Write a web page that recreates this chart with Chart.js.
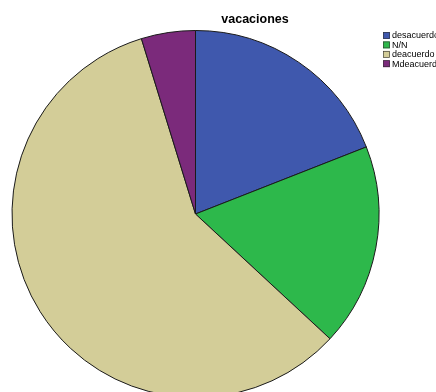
<!DOCTYPE html>
<html>
<head>
<meta charset="utf-8">
<script src="https://cdn.jsdelivr.net/npm/chart.js@4/dist/chart.umd.min.js"></script>
<style>
  html, body { margin: 0; padding: 0; background: #fff; overflow: hidden; }
  #wrap { width: 436px; height: 392px; overflow: hidden; position: relative; }
</style>
</head>
<body>
<div id="wrap"><canvas id="pie" width="436" height="420"></canvas></div>
<script>
// vacaciones - frecuencias por respuesta
var categories = ['desacuerdo', 'N/N', 'deacuerdo', 'Mdeacuerdo'];
var counts = [16, 15, 49, 4];
var colors = ['#3f58ad', '#2db84b', '#d3cd98', '#7b2a7b'];
var title = 'vacaciones';

// title + legend drawn by hand, SPSS style
var spssDecor = {
    id: 'spssDecor',
    afterDraw: function (chart) {
        var ctx = chart.ctx;
        ctx.save();
        ctx.fillStyle = '#000';
        ctx.font = 'bold 12.5px "Liberation Sans", Arial, sans-serif';
        ctx.textAlign = 'center';
        ctx.textBaseline = 'middle';
        ctx.fillText(title, 255, 20);

        ctx.font = '9px "Liberation Sans", Arial, sans-serif';
        ctx.textAlign = 'left';
        var labels = chart.data.labels;
        var bg = chart.data.datasets[0].backgroundColor;
        for (var i = 0; i < labels.length; i++) {
            var y = 32 + i * 9.4;
            ctx.fillStyle = bg[i];
            ctx.fillRect(383, y, 7, 7);
            ctx.strokeStyle = '#333';
            ctx.lineWidth = 0.6;
            ctx.strokeRect(383.5, y + 0.5, 6, 6);
            ctx.fillStyle = '#000';
            ctx.fillText(labels[i], 392, y + 4);
        }
        ctx.restore();
    }
};

new Chart(document.getElementById('pie'), {
    type: 'pie',
    data: {
        labels: categories,
        datasets: [{
            data: counts,
            backgroundColor: colors,
            borderColor: '#1a1a1a',
            borderWidth: 1
        }]
    },
    options: {
        responsive: false,
        devicePixelRatio: 1,
        animation: false,
        layout: {
            padding: { left: 11.5, right: 56.5, top: 30, bottom: 22 }
        },
        plugins: {
            legend: { display: false },
            title: { display: false },
            tooltip: { enabled: false }
        }
    },
    plugins: [spssDecor]
});
</script>
</body>
</html>
